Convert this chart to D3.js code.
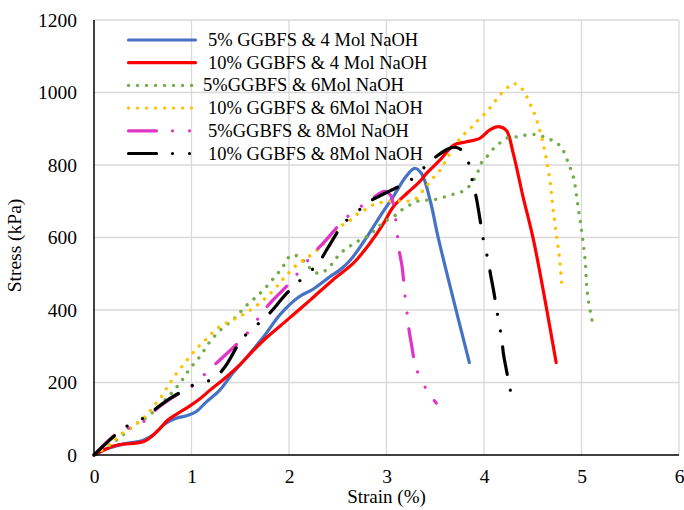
<!DOCTYPE html>
<html>
<head>
<meta charset="utf-8">
<script src="https://cdn.jsdelivr.net/npm/d3@7"></script>
<style>
  body { margin: 0; background: #fff; }
</style>
</head>
<body>
<div id="chart"></div>
<script>
// series names, in legend order
var seriesNames = [
    "5% GGBFS & 4 Mol NaOH",
    "10% GGBFS & 4 Mol NaOH",
    "5%GGBFS & 6Mol NaOH",
    "10% GGBFS & 6Mol NaOH",
    "5%GGBFS & 8Mol NaOH",
    "10% GGBFS & 8Mol NaOH"
];

var xTicks = [0, 1, 2, 3, 4, 5, 6];
var yTicks = [0, 200, 400, 600, 800, 1000, 1200];

// [strain %, stress kPa]
var s5g4m = [[0,0],[0.1,14],[0.3,30],[0.5,40],[0.62,58],[0.72,85],[0.85,102],[0.95,108],[1.05,120],[1.15,146],
    [1.29,179],[1.43,228],[1.57,271],[1.74,326],[1.91,388],[2.1,436],[2.25,458],[2.42,492],[2.52,510],[2.63,538],
    [2.8,602],[2.93,657],[3.07,713],[3.2,768],[3.29,791],[3.36,776],[3.45,700],[3.53,600],[3.85,255]];

var s10g4m = [[0,0],[0.1,14],[0.2,25],[0.3,30],[0.4,32],[0.51,37],[0.59,51],[0.68,74],[0.76,97],[0.86,115],
    [0.98,135],[1.09,156],[1.19,179],[1.33,209],[1.5,250],[1.63,287],[1.77,324],[1.98,372],[2.1,400],[2.22,428],
    [2.45,483],[2.66,529],[2.83,584],[2.97,639],[3.07,685],[3.21,722],[3.34,754],[3.41,777],[3.55,814],[3.69,855],
    [3.82,864],[3.96,874],[4.06,897],[4.15,906],[4.23,895],[4.3,832],[4.4,713],[4.51,590],[4.74,255]];

var s5g6m = [[0,0],[0.2,35],[0.44,87],[0.57,110],[0.76,161],[0.88,198],[0.98,237],[1.09,273],[1.19,313],[1.31,348],
    [1.44,377],[1.57,414],[1.7,445],[1.81,477],[1.87,497],[1.93,515],[1.97,536],[2.03,552],[2.11,545],[2.17,529],
    [2.23,512],[2.3,501],[2.38,510],[2.44,527],[2.49,545],[2.56,564],[2.63,577],[2.7,589],[2.78,600],[2.85,613],
    [2.91,628],[2.98,644],[3.07,657],[3.13,671],[3.21,685],[3.29,697],[3.36,703],[3.45,703],[3.55,708],[3.65,717],
    [3.77,726],[3.86,745],[3.93,777],[3.98,809],[4.03,823],[4.1,846],[4.16,860],[4.23,874],[4.3,876],[4.37,880],
    [4.45,883],[4.56,883],[4.64,874],[4.73,864],[4.8,846],[4.86,809],[4.92,763],[4.95,713],[4.98,657],[5.01,600],
    [5.04,530],[5.05,478],[5.07,428],[5.12,355]];

var s10g6m = [[0,0],[0.16,28],[0.28,58],[0.42,83],[0.5,101],[0.56,117],[0.61,135],[0.68,156],[0.72,175],[0.77,193],
    [0.81,212],[0.92,250],[1.04,290],[1.16,322],[1.29,354],[1.45,376],[1.6,399],[1.74,428],[1.86,460],[1.93,483],
    [1.98,497],[2.04,515],[2.11,531],[2.18,543],[2.32,573],[2.45,610],[2.55,635],[2.64,650],[2.71,667],[2.79,678],
    [2.86,690],[2.95,697],[3.12,701],[3.21,700],[3.29,705],[3.38,731],[3.46,759],[3.55,786],[3.62,818],[3.69,850],
    [3.77,878],[3.86,901],[3.94,924],[4.03,947],[4.11,975],[4.18,998],[4.25,1016],[4.3,1025],[4.37,1016],[4.43,993],
    [4.47,970],[4.51,947],[4.54,924],[4.57,897],[4.61,855],[4.64,814],[4.68,750],[4.71,676],[4.75,593],[4.78,529],
    [4.8,455]];

var s5g8m = [[0,0],[0.23,58],[0.36,75],[0.52,94],[0.65,129],[0.9,175],[1.05,198],[1.16,230],[1.29,262],[1.5,315],
    [1.62,352],[1.72,391],[1.82,423],[2.01,475],[2.14,519],[2.25,556],[2.37,590],[2.56,648],[2.7,678],[2.84,705],
    [2.98,727],[3.04,717],[3.09,657],[3.11,611],[3.13,564],[3.16,520],[3.19,437],[3.21,393],[3.23,347],[3.26,299],
    [3.29,253],[3.33,221],[3.41,181],[3.51,143]];

var s10g8m = [[0,0],[0.23,58],[0.36,83],[0.52,104],[0.65,131],[0.78,156],[0.9,175],[1.05,197],[1.22,209],[1.34,242],
    [1.5,313],[1.61,346],[1.74,374],[1.86,409],[1.93,432],[2.06,469],[2.19,499],[2.31,533],[2.4,572],[2.56,639],
    [2.69,669],[2.83,700],[2.97,720],[3.25,759],[3.37,789],[3.5,821],[3.63,844],[3.7,849],[3.77,841],[3.85,800],
    [3.88,756],[3.92,711],[3.95,665],[4.0,584],[4.04,540],[4.07,494],[4.1,451],[4.15,368],[4.18,324],[4.2,278],
    [4.23,234],[4.29,150]];

var seriesData = [s5g4m, s10g4m, s5g6m, s10g6m, s5g8m, s10g8m];

// line looks
var colors = ["#4472C4", "#FF0000", "#70AD47", "#FFC000", "#E034C8", "#000000"];
var dotted = "0.01,9";
var dashDotDot = "28,16,0.01,17,0.01,16";
var dashes = [null, null, dotted, dotted, dashDotDot, dashDotDot];
var serif = "'Liberation Serif', 'Times New Roman', Times, serif";

var margin = { top: 20, right: 5, bottom: 55, left: 94 };
var width = 684 - margin.left - margin.right,
    height = 510 - margin.top - margin.bottom;

var svg = d3.select("#chart").append("svg")
    .attr("width", 684)
    .attr("height", 510)
    .style("font-family", serif)
    .append("g")
    .attr("transform", "translate(" + margin.left + "," + margin.top + ")");

var x = d3.scaleLinear().domain([0, 6]).range([0, 585]);
var y = d3.scaleLinear().domain([0, 1200]).range([height, 0]);

// gridlines
svg.append("g").selectAll("line.hgrid")
    .data(yTicks.slice(1))
    .enter().append("line")
    .attr("x1", 0).attr("x2", x(6))
    .attr("y1", function(d) { return y(d); })
    .attr("y2", function(d) { return y(d); })
    .attr("stroke", "#d9d9d9").attr("stroke-width", 1.3);

svg.append("g").selectAll("line.vgrid")
    .data(xTicks.slice(1))
    .enter().append("line")
    .attr("x1", function(d) { return x(d); })
    .attr("x2", function(d) { return x(d); })
    .attr("y1", 0).attr("y2", height)
    .attr("stroke", "#d9d9d9").attr("stroke-width", 1.3);

// axes
var xAxis = d3.axisBottom(x).tickValues(xTicks).tickSize(0).tickPadding(14)
    .tickFormat(d3.format("d"));
var yAxis = d3.axisLeft(y).tickValues(yTicks).tickSize(0).tickPadding(17)
    .tickFormat(d3.format("d"));

var gx = svg.append("g")
    .attr("transform", "translate(0," + height + ")")
    .call(xAxis)
    .attr("font-family", null).attr("font-size", null);
var gy = svg.append("g").call(yAxis)
    .attr("font-family", null).attr("font-size", null);

gx.select(".domain").remove();
gy.select(".domain").remove();
gx.selectAll("text").style("font-family", serif).style("font-size", "19.5px").attr("fill", "#000");
gy.selectAll("text").style("font-family", serif).style("font-size", "19.5px").attr("fill", "#000");

// curves
var line = d3.line()
    .curve(d3.curveCatmullRom.alpha(0.5))
    .x(function(d) { return x(d[0]); })
    .y(function(d) { return y(d[1]); });

svg.append("g").selectAll("path.curve")
    .data(seriesData)
    .enter().append("path")
    .attr("class", "curve")
    .attr("d", line)
    .attr("fill", "none")
    .attr("stroke", function(d, i) { return colors[i]; })
    .attr("stroke-width", function(d, i) { return dashes[i] === dotted ? 3.4 : 3.2; })
    .attr("stroke-linecap", "round")
    .attr("stroke-dasharray", function(d, i) { return dashes[i]; });

// axis lines on top
svg.append("line")
    .attr("x1", 0).attr("x2", x(6))
    .attr("y1", height).attr("y2", height)
    .attr("stroke", "#000").attr("stroke-width", 1.5);
svg.append("line")
    .attr("x1", 0).attr("x2", 0)
    .attr("y1", 0).attr("y2", height)
    .attr("stroke", "#000").attr("stroke-width", 1.5);

// axis titles
svg.append("text")
    .attr("x", x(3))
    .attr("y", height + 48)
    .attr("text-anchor", "middle")
    .style("font-family", serif)
    .style("font-size", "19px")
    .text("Strain (%)");

svg.append("text")
    .attr("transform", "translate(" + (-73) + "," + (y(600) + 8) + ") rotate(-90)")
    .attr("text-anchor", "middle")
    .style("font-family", serif)
    .style("font-size", "19.5px")
    .text("Stress (kPa)");

// legend
var legend = svg.append("g")
    .attr("transform", "translate(33,20)");

var rows = legend.selectAll("g.row")
    .data(seriesNames)
    .enter().append("g")
    .attr("transform", function(d, i) { return "translate(0," + (i * 22.7) + ")"; });

rows.append("line")
    .attr("x1", 1.5).attr("x2", 68.5)
    .attr("y1", 0).attr("y2", 0)
    .attr("stroke", function(d, i) { return colors[i]; })
    .attr("stroke-width", function(d, i) { return dashes[i] === dotted ? 3.4 : 3.2; })
    .attr("stroke-linecap", "round")
    .attr("stroke-dasharray", function(d, i) { return dashes[i]; });

rows.append("text")
    .attr("x", function(d, i) { return i === 2 ? 76 : 81; })
    .attr("y", 6)
    .style("font-family", serif)
    .style("font-size", "18.5px")
    .text(function(d) { return d; });
</script>
</body>
</html>
